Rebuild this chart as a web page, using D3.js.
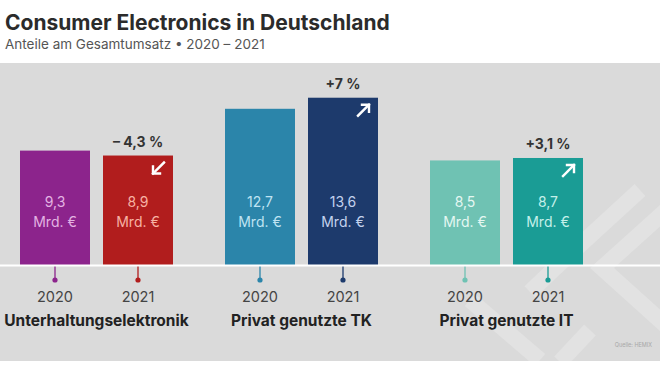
<!DOCTYPE html>
<html><head><meta charset="utf-8">
<script src="https://cdn.jsdelivr.net/npm/d3@7"></script>
<style>body{margin:0;background:#fff;}svg{display:block;font-family:Inter,"Noto Sans",sans-serif;}</style>
</head><body>
<svg id="c" width="660" height="369"></svg>
<script>
const groups = ["Unterhaltungselektronik", "Privat genutzte TK", "Privat genutzte IT"];
const years = ["2020", "2021"];
const values2020 = [9.3, 12.7, 8.5];
const values2021 = [8.9, 13.6, 8.7];
const changes = ["– 4,3 %", "+7 %", "+3,1 %"];
const directions = ["down", "up", "up"];
const colors2020 = ["#8c248c", "#2b85aa", "#6fc2b3"];
const colors2021 = ["#b11d1d", "#1d3a6c", "#1a9c95"];
const textColors2020 = ["#e3b3e3", "#bfe3f2", "#e4f7f2"];
const textColors2021 = ["#f7b2a4", "#c3d2ee", "#c4f0ea"];

const svg = d3.select("#c");
// panel
svg.append("rect").attr("x",0).attr("y",63).attr("width",660).attr("height",298).attr("fill","#dadada");

// watermark
const wm = svg.append("g").attr("stroke","#e2e2e2").attr("stroke-width",16).attr("fill","none").attr("stroke-linecap","butt");
svg.append("clipPath").attr("id","pc").append("rect").attr("x",0).attr("y",63).attr("width",660).attr("height",298);
wm.attr("clip-path","url(#pc)");
wm.append("path").attr("d","M672,205 L602,268 L672,331");
wm.append("path").attr("d","M640,190 L555,268 L530,292");
wm.append("path").attr("d","M470,300 L540,360");
wm.append("path").attr("d","M590,330 L560,362");

svg.append("text").attr("x",5).attr("y",30).attr("font-size",21).attr("font-weight",700).attr("fill","#2b2b2b").text("Consumer Electronics in Deutschland");
svg.append("text").attr("x",5).attr("y",49).attr("font-size",13.5).attr("fill","#555").text("Anteile am Gesamtumsatz • 2020 – 2021");

const x0 = d3.scaleBand().domain(groups).range([20,583]).paddingInner(52/205).paddingOuter(0);
const x1 = d3.scaleBand().domain(years).range([0,x0.bandwidth()]).paddingInner(13/83).paddingOuter(0);
const y = d3.scaleLinear().domain([0,14]).range([265, 265-14*12.3]);

const data = [];
groups.forEach((g,i)=>{
  data.push({g,yr:"2020",v:values2020[i],c:colors2020[i],tc:textColors2020[i],i});
  data.push({g,yr:"2021",v:values2021[i],c:colors2021[i],tc:textColors2021[i],i});
});

const bars = svg.append("g").selectAll("g").data(data).join("g")
  .attr("transform",d=>`translate(${x0(d.g)+x1(d.yr)},0)`);
const bw = x1.bandwidth();
bars.append("rect").attr("x",0).attr("y",d=>y(d.v)).attr("width",bw).attr("height",d=>y(0)-y(d.v)).attr("fill",d=>d.c);
bars.append("line").attr("x1",bw/2).attr("x2",bw/2).attr("y1",y(0)).attr("y2",280).attr("stroke",d=>d.c).attr("stroke-width",1.3);
bars.append("circle").attr("cx",bw/2).attr("cy",280).attr("r",2.6).attr("fill",d=>d.c);
bars.append("text").attr("x",bw/2).attr("y",207).attr("text-anchor","middle").attr("font-size",14).attr("fill",d=>d.tc).text(d=>String(d.v).replace(".",","));
bars.append("text").attr("x",bw/2).attr("y",227).attr("text-anchor","middle").attr("font-size",14).attr("fill",d=>d.tc).text("Mrd. €");
bars.append("text").attr("x",bw/2).attr("y",302).attr("text-anchor","middle").attr("font-size",14.5).attr("fill","#444").text(d=>d.yr);

// baseline
svg.append("line").attr("x1",0).attr("x2",660).attr("y1",y(0)+0.5).attr("y2",y(0)+0.5).attr("stroke","#fff").attr("stroke-width",2);

// group labels
svg.append("g").selectAll("text").data(groups).join("text")
  .attr("x",g=>x0(g)+x0.bandwidth()/2).attr("y",325.5).attr("text-anchor","middle")
  .attr("font-size",15.5).attr("font-weight",700).attr("fill","#222").text(g=>g);

// change labels and arrows
groups.forEach((g,i)=>{
  const bx = x0(g)+x1("2021");
  const top = y(values2021[i]);
  svg.append("text").attr("x",bx+bw/2).attr("y",top-9).attr("text-anchor","middle")
    .attr("font-size",14).attr("font-weight",700).attr("fill","#333").text(changes[i]);
  const ax = bx+bw-9, ay = top+7;
  const a = svg.append("g").attr("stroke","#fff").attr("stroke-width",2.4).attr("fill","none").attr("stroke-linecap","square");
  if(directions[i]==="up"){
    a.append("path").attr("d",`M${ax-11},${ay+11} L${ax},${ay}`);
    a.append("path").attr("d",`M${ax-7},${ay} L${ax},${ay} L${ax},${ay+7}`);
  } else {
    a.append("path").attr("d",`M${ax},${ay} L${ax-11},${ay+11}`);
    a.append("path").attr("d",`M${ax-11},${ay+4} L${ax-11},${ay+11} L${ax-4},${ay+11}`);
  }
});

svg.append("text").attr("x",652).attr("y",347).attr("text-anchor","end").attr("font-size",5.5).attr("fill","#a8a8a8").text("Quelle: HEMIX");
</script>
</body></html>
